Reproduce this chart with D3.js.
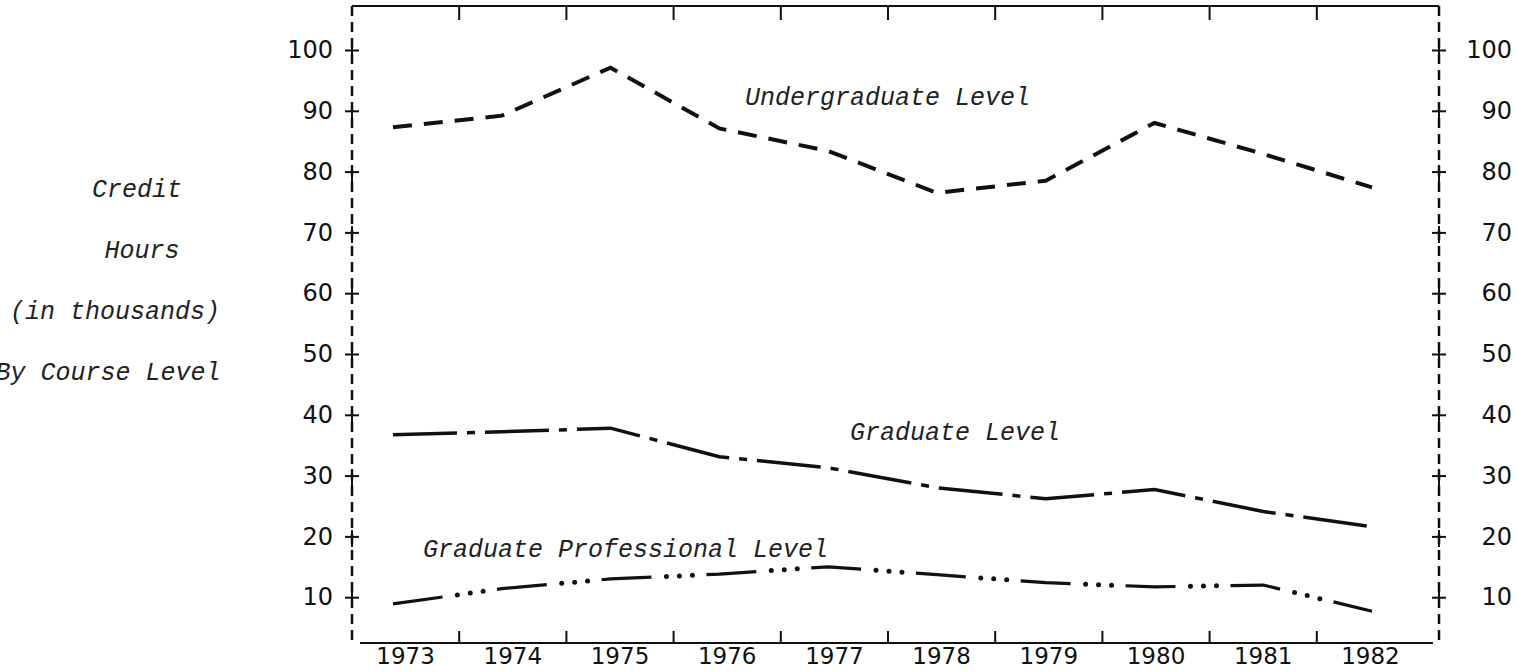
<!DOCTYPE html>
<html>
<head>
<meta charset="utf-8">
<script src="https://cdn.jsdelivr.net/npm/d3@7"></script>
<style>
  body { margin: 0; background: #fff; }
  .lbl { font-family: "Liberation Mono", "DejaVu Sans Mono", monospace; font-style: italic; font-size: 25px; fill: #222; }
</style>
</head>
<body>
<svg id="chart"></svg>
<script>
// credit hours (thousands) by course level
var years = [1973, 1974, 1975, 1976, 1977, 1978, 1979, 1980, 1981, 1982];
var undergraduate = [87.3, 89.2, 97.1, 87.1, 83.4, 76.5, 78.5, 88.0, 82.9, 77.4];
var graduate = [36.7, 37.2, 37.8, 33.1, 31.3, 28.0, 26.2, 27.7, 24.1, 21.6];
var professional = [8.9, 11.4, 13.0, 13.8, 15.0, 13.7, 12.4, 11.7, 12.0, 7.7];
var yTicks = [10, 20, 30, 40, 50, 60, 70, 80, 90, 100];
var titleLines = ["Credit", "Hours", "(in thousands)", "By Course Level"];

var width = 1518, height = 672;
var frame = { left: 352, right: 1439, top: 6, bottom: 643 };

var svg = d3.select("#chart")
            .attr("width", width)
            .attr("height", height);

var x = d3.scaleBand().domain(years).range([352, 1424]);      // year columns
var xLine = d3.scalePoint().domain(years).range([393, 1372]); // where the curves were plotted
var y = d3.scaleLinear().domain([0, 100]).range([658, 50]);

var ink = "#111";

// frame: dashed sides, solid top and bottom
svg.append("line")
    .attr("x1", frame.left).attr("x2", frame.left)
    .attr("y1", frame.top).attr("y2", frame.bottom)
    .attr("stroke", ink).attr("stroke-width", 2.5).attr("stroke-dasharray", "10 6");
svg.append("line")
    .attr("x1", frame.right).attr("x2", frame.right)
    .attr("y1", frame.top).attr("y2", frame.bottom)
    .attr("stroke", ink).attr("stroke-width", 2.5).attr("stroke-dasharray", "10 6");
svg.append("line")
    .attr("x1", frame.left).attr("x2", frame.right)
    .attr("y1", frame.top).attr("y2", frame.top)
    .attr("stroke", ink).attr("stroke-width", 2);
svg.append("line")
    .attr("x1", frame.left + 8).attr("x2", frame.right - 6)
    .attr("y1", frame.bottom).attr("y2", frame.bottom)
    .attr("stroke", ink).attr("stroke-width", 2);

// year column ticks, top and bottom
svg.selectAll(".xtick-b")
    .data(years.slice(1))
    .enter()
    .append("line")
    .attr("x1", function (d) { return x(d); })
    .attr("x2", function (d) { return x(d); })
    .attr("y1", frame.bottom).attr("y2", frame.bottom - 12)
    .attr("stroke", ink).attr("stroke-width", 2);
svg.selectAll(".xtick-t")
    .data(years.slice(1))
    .enter()
    .append("line")
    .attr("x1", function (d) { return x(d); })
    .attr("x2", function (d) { return x(d); })
    .attr("y1", frame.top).attr("y2", frame.top + 14)
    .attr("stroke", ink).attr("stroke-width", 2);

var xAxis = svg.append("g")
    .attr("transform", "translate(0," + frame.bottom + ")")
    .call(d3.axisBottom(x).tickSize(0).tickPadding(5));
xAxis.select(".domain").remove();
xAxis.attr("font-size", 23).attr("font-family", "'DejaVu Sans', sans-serif");
xAxis.selectAll("text").attr("fill", ink);

// y axes with "+" style ticks
function plusTicks(g) {
    g.select(".domain").remove();
    g.attr("font-size", 24).attr("font-family", "'DejaVu Sans', sans-serif");
    g.selectAll(".tick text").attr("fill", ink);
    g.selectAll(".tick line")
        .attr("x1", -7).attr("x2", 7)
        .attr("stroke", ink).attr("stroke-width", 2);
    g.selectAll(".tick")
        .append("line")
        .attr("y1", -7).attr("y2", 10)
        .attr("stroke", ink).attr("stroke-width", 2);
}

svg.append("g")
    .attr("transform", "translate(" + frame.left + ",0)")
    .call(d3.axisLeft(y).tickValues(yTicks).tickSize(0).tickPadding(19))
    .call(plusTicks);

svg.append("g")
    .attr("transform", "translate(" + frame.right + ",0)")
    .call(d3.axisRight(y).tickValues(yTicks).tickSize(0).tickPadding(73))
    .call(plusTicks)
    .selectAll(".tick text")
    .attr("text-anchor", "end");

// the three series
var line = d3.line()
    .x(function (d, i) { return xLine(years[i]); })
    .y(function (d) { return y(d); });

svg.append("path")
    .datum(undergraduate)
    .attr("d", line)
    .attr("fill", "none").attr("stroke", ink)
    .attr("stroke-width", 4)
    .attr("stroke-dasharray", "19 12");

svg.append("path")
    .datum(graduate)
    .attr("d", line)
    .attr("fill", "none").attr("stroke", ink)
    .attr("stroke-width", 3.5)
    .attr("stroke-dasharray", "64 10 8 10");

// professional: long dash then three dots, drawn as two passes
svg.append("path")
    .datum(professional)
    .attr("d", line)
    .attr("fill", "none").attr("stroke", ink)
    .attr("stroke-width", 3.2)
    .attr("stroke-dasharray", "50 55");
svg.append("path")
    .datum(professional)
    .attr("d", line)
    .attr("fill", "none").attr("stroke", ink)
    .attr("stroke-width", 5)
    .attr("stroke-linecap", "round")
    .attr("stroke-dasharray", "0 13 0 13 0 79")
    .attr("stroke-dashoffset", 40);

// series labels
svg.append("text").attr("class", "lbl").attr("x", 745).attr("y", 105).text("Undergraduate Level");
svg.append("text").attr("class", "lbl").attr("x", 850).attr("y", 440).text("Graduate Level");
svg.append("text").attr("class", "lbl").attr("x", 423).attr("y", 557).text("Graduate Professional Level");

// left-hand title, typed line by line
var titleX = [137, 142, 115, 108];
svg.selectAll(".title")
    .data(titleLines)
    .enter()
    .append("text")
    .attr("class", "lbl")
    .attr("text-anchor", "middle")
    .attr("x", function (d, i) { return titleX[i]; })
    .attr("y", function (d, i) { return 197 + i * 61; })
    .text(function (d) { return d; });
</script>
</body>
</html>
